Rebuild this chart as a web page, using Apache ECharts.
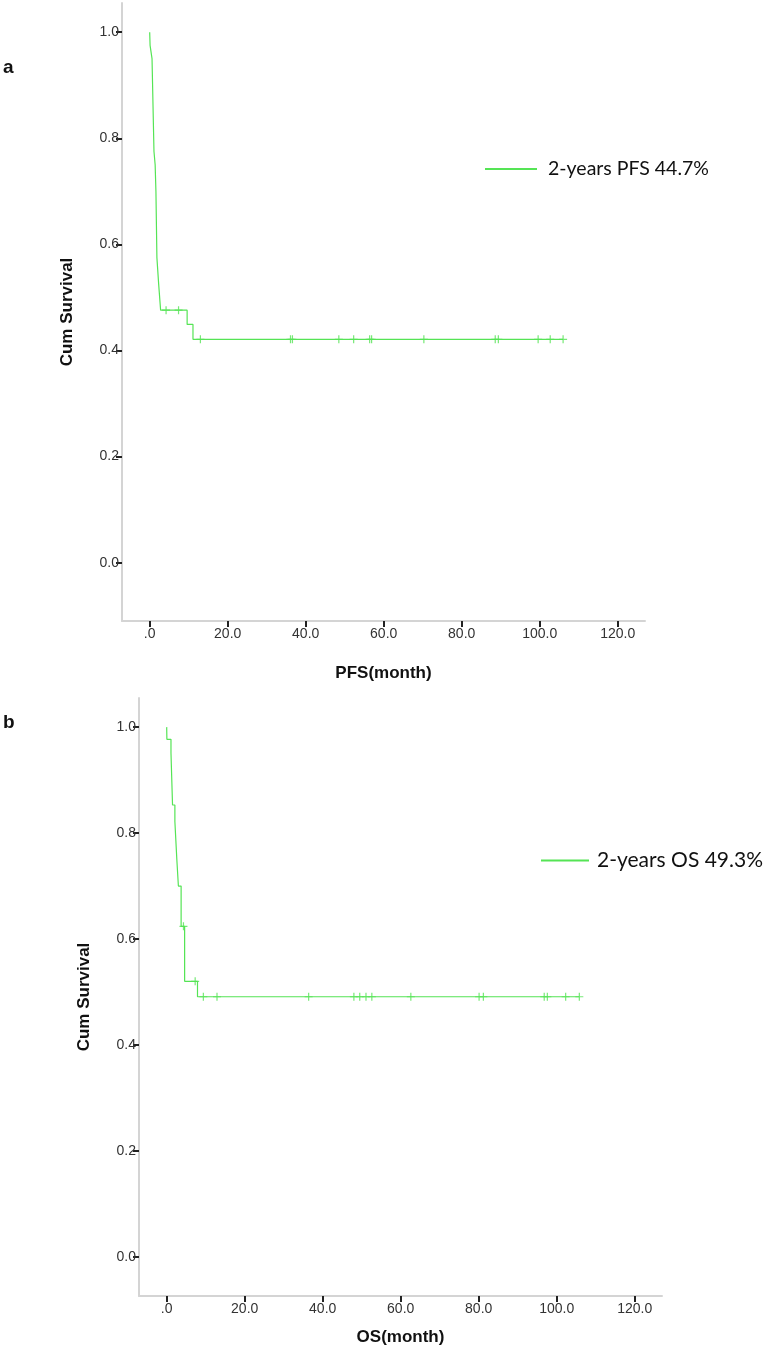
<!DOCTYPE html>
<html>
<head>
<meta charset="utf-8">
<script src="https://cdn.jsdelivr.net/npm/echarts@6/dist/echarts.min.js"></script>
<style>html,body{margin:0;padding:0;background:#fff}#c{width:773px;height:1351px}</style>
</head>
<body>
<div id="c"></div>
<script>
// ---- Data ----
const xTicks = [0, 20, 40, 60, 80, 100, 120];
const yTicks = [0, 0.2, 0.4, 0.6, 0.8, 1.0];

// Panel a: PFS step curve (time in months, cumulative survival after event)
const pfsTimes = [0, 0.1, 0.6, 1.1, 1.4, 1.6, 1.85, 2.3, 2.8, 9.6, 11.1, 106.0];
const pfsSurv  = [1.0, 0.975, 0.95, 0.775, 0.75, 0.70, 0.575, 0.525, 0.476, 0.449, 0.421, 0.421];
const pfsCensorTimes = [4.2, 7.4, 13.0, 36.1, 36.6, 48.5, 52.3, 56.4, 56.9, 70.3, 88.6, 89.4, 99.6, 102.7, 106.0];
const pfsCensorSurv  = [0.476, 0.476, 0.421, 0.421, 0.421, 0.421, 0.421, 0.421, 0.421, 0.421, 0.421, 0.421, 0.421, 0.421, 0.421];

// Panel b: OS step curve
const osTimes = [0, 0.05, 1.1, 1.5, 2.1, 2.6, 3.0, 3.7, 4.6, 7.9, 105.8];
const osSurv  = [1.0, 0.977, 0.951, 0.853, 0.822, 0.75, 0.70, 0.624, 0.52, 0.491, 0.491];
const osCensorTimes = [4.3, 7.3, 9.4, 12.9, 36.4, 48.0, 49.5, 51.1, 52.6, 62.6, 80.1, 81.2, 96.8, 97.6, 102.3, 105.8];
const osCensorSurv  = [0.624, 0.52, 0.491, 0.491, 0.491, 0.491, 0.491, 0.491, 0.491, 0.491, 0.491, 0.491, 0.491, 0.491, 0.491, 0.491];

const pfsName = '2-years PFS 44.7%';
const osName = '2-years OS 49.3%';
const panelLabels = ['a', 'b'];
const xTitles = ['PFS(month)', 'OS(month)'];
const yTitle = 'Cum Survival';

// ---- Styling ----
const GREEN = '#55e455';
const plusPath = 'path://M3.4,0H4.6V3.4H8V4.6H4.6V8H3.4V4.6H0V3.4H3.4Z';
const labelFont = {fontFamily: 'Liberation Sans, Arial, sans-serif', fontSize: 14, color: '#333'};
const titleFont = {fontFamily: 'Liberation Sans, Arial, sans-serif', fontSize: 17, fontWeight: 'bold', color: '#111'};

function zip(a, b) { return a.map((v, i) => [v, b[i]]); }
function fmtX(v) { return v === 0 ? '.0' : v.toFixed(1); }
function fmtY(v) { return v.toFixed(1); }

function xAxisFor(gi, name, gap) {
  return {
    type: 'value', gridIndex: gi, min: -7.1, max: 127,
    name: name, nameLocation: 'middle', nameGap: gap,
    nameTextStyle: titleFont,
    axisLine: {show: true, onZero: false, lineStyle: {color: '#d4d4d4', width: 2}},
    axisTick: {show: true, customValues: xTicks, length: 6, lineStyle: {color: '#222', width: 2}},
    axisLabel: {show: true, customValues: xTicks, formatter: fmtX, margin: 6, ...labelFont},
    splitLine: {show: false}
  };
}
function yAxisFor(gi) {
  return {
    type: 'value', gridIndex: gi, min: gi === 0 ? -0.11 : -0.074, max: 1.055,
    name: yTitle, nameLocation: 'middle', nameGap: 46,
    nameTextStyle: titleFont,
    axisLine: {show: true, onZero: false, lineStyle: {color: '#d4d4d4', width: 2}},
    axisTick: {show: true, customValues: yTicks, length: 6, lineStyle: {color: '#222', width: 2}},
    axisLabel: {show: true, customValues: yTicks, formatter: fmtY, margin: 3, ...labelFont},
    splitLine: {show: false}
  };
}

const chart = echarts.init(document.getElementById('c'), null, {renderer: 'canvas'});
chart.setOption({
  animation: false,
  backgroundColor: '#fff',
  grid: [
    {left: 122, top: 3, width: 523, height: 618},
    {left: 139, top: 698, width: 523, height: 598}
  ],
  xAxis: [xAxisFor(0, xTitles[0], 44), xAxisFor(1, xTitles[1], 33)],
  yAxis: [yAxisFor(0), yAxisFor(1)],
  legend: [
    {data: [pfsName], left: 480, top: 154, itemWidth: 52, itemHeight: 2, icon: 'rect',
     textStyle: {fontFamily: 'Lato, Open Sans, sans-serif', fontSize: 19.5, color: '#111', padding: [0, 0, 0, 6]}},
    {data: [osName], left: 536, top: 845, itemWidth: 48, itemHeight: 2, icon: 'rect',
     textStyle: {fontFamily: 'Lato, Open Sans, sans-serif', fontSize: 21, color: '#111', padding: [0, 0, 0, 3]}}
  ],
  graphic: [
    {type: 'text', left: 3, top: 58, style: {text: panelLabels[0], font: 'bold 19px Liberation Sans, Arial, sans-serif', fill: '#111'}},
    {type: 'text', left: 3, top: 713, style: {text: panelLabels[1], font: 'bold 19px Liberation Sans, Arial, sans-serif', fill: '#111'}}
  ],
  series: [
    {name: pfsName, type: 'line', xAxisIndex: 0, yAxisIndex: 0, step: 'end', data: zip(pfsTimes, pfsSurv),
     showSymbol: false, symbol: 'none', lineStyle: {color: GREEN, width: 1.2}, itemStyle: {color: GREEN}},
    {name: 'pfsCensor', type: 'scatter', xAxisIndex: 0, yAxisIndex: 0, data: zip(pfsCensorTimes, pfsCensorSurv),
     symbol: plusPath, symbolSize: [8, 8], itemStyle: {color: GREEN}},
    {name: osName, type: 'line', xAxisIndex: 1, yAxisIndex: 1, step: 'end', data: zip(osTimes, osSurv),
     showSymbol: false, symbol: 'none', lineStyle: {color: GREEN, width: 1.2}, itemStyle: {color: GREEN}},
    {name: 'osCensor', type: 'scatter', xAxisIndex: 1, yAxisIndex: 1, data: zip(osCensorTimes, osCensorSurv),
     symbol: plusPath, symbolSize: [8, 8], itemStyle: {color: GREEN}}
  ]
});
</script>
</body>
</html>
